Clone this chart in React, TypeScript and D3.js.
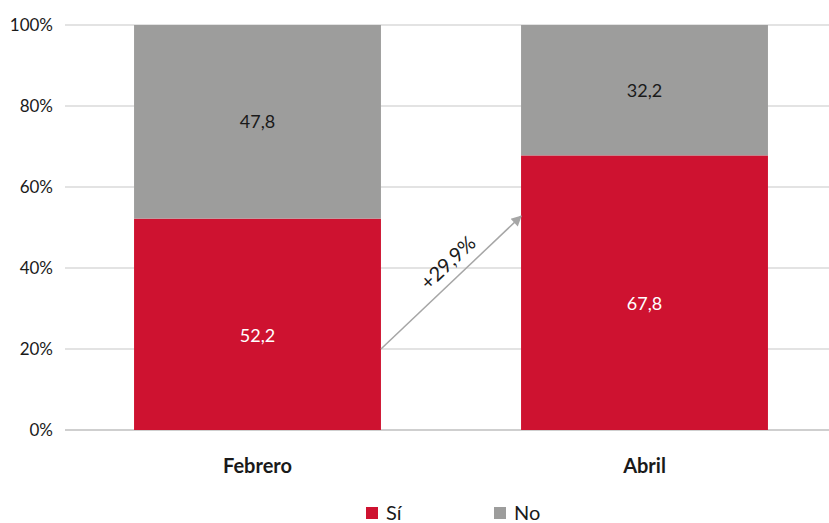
import React from "react";
import * as d3 from "d3";

const categories = ["Febrero", "Abril"];
const siValues = [52.2, 67.8];
const noValues = [47.8, 32.2];
const yTicks = [0, 20, 40, 60, 80, 100];
const seriesNames = ["Sí", "No"];
const changeLabel = "+29,9%";
// arrow goes from this % level at the first bar to this % level at the second bar
const arrowFrom = 20;
const arrowTo = 52.8;

const RED = "#ce1230";
const GRAY = "#9d9d9c";
const FONT = "Lato, 'Open Sans', sans-serif";

export default function App() {
  const width = 829;
  const height = 523;

  const x = d3.scaleBand<string>()
    .domain(categories)
    .range([64, 838])
    .paddingInner(0.362)
    .paddingOuter(0.181);

  const y = d3.scaleLinear().domain([0, 100]).range([430, 25]);

  const bw = x.bandwidth();
  const ax1 = (x(categories[0]) || 0) + bw;
  const ay1 = y(arrowFrom);
  const ax2 = x(categories[1]) || 0;
  const ay2 = y(arrowTo);
  const angle = (Math.atan2(ay2 - ay1, ax2 - ax1) * 180) / Math.PI;
  const mx = (ax1 + ax2) / 2 - 3;
  const my = (ay1 + ay2) / 2 - 20;

  return (
    <svg
      width={width}
      height={height}
      style={{ position: "absolute", left: 0, top: 0, background: "#fff" }}
      fontFamily={FONT}
    >
      <defs>
        <marker id="arrowhead" viewBox="0 0 10 10" refX="9" refY="5"
          markerWidth="8" markerHeight="7" orient="auto">
          <path d="M0,0 L10,5 L0,10 Z" fill="#a6a6a6" />
        </marker>
      </defs>

      {/* gridlines */}
      {yTicks.map((t) => (
        <line key={t} x1={65} x2={width} y1={y(t)} y2={y(t)}
          stroke={t === 0 ? "#a0a0a0" : "#c8c8c8"} strokeWidth={1.2} />
      ))}

      {/* y tick labels */}
      {yTicks.map((t) => (
        <text key={"l" + t} x={53} y={y(t)} dy="0.35em" textAnchor="end"
          fontSize={17} fill="#1a1a1a">{t + "%"}</text>
      ))}

      {/* bars */}
      {categories.map((c, i) => {
        const bx = x(c) || 0;
        return (
          <g key={c}>
            <rect x={bx} width={bw} y={y(siValues[i])} height={y(0) - y(siValues[i])} fill={RED} />
            <rect x={bx} width={bw} y={y(100)} height={y(siValues[i]) - y(100)} fill={GRAY} />
            <text x={bx + bw / 2} y={y(siValues[i] / 2) + 11} dy="0.35em" textAnchor="middle"
              fontSize={18} fill="#fff">{siValues[i].toFixed(1).replace(".", ",")}</text>
            <text x={bx + bw / 2} y={y(siValues[i] + noValues[i] / 2)} dy="0.35em" textAnchor="middle"
              fontSize={18} fill="#1a1a1a">{noValues[i].toFixed(1).replace(".", ",")}</text>
            <text x={bx + bw / 2} y={466} dy="0.35em" textAnchor="middle"
              fontSize={20} fontWeight="bold" fill="#1a1a1a">{c}</text>
          </g>
        );
      })}

      {/* change arrow */}
      <line x1={ax1} y1={ay1} x2={ax2} y2={ay2} stroke="#a6a6a6" strokeWidth={1.5}
        markerEnd="url(#arrowhead)" />
      <text transform={`translate(${mx},${my}) rotate(${angle})`} textAnchor="middle"
        dy="0.35em" fontSize={20} fill="#1a1a1a">{changeLabel}</text>

      {/* legend */}
      {seriesNames.map((s, i) => {
        const lx = 366 + i * 128;
        return (
          <g key={s}>
            <rect x={lx} y={507} width={12} height={12} fill={i === 0 ? RED : GRAY} />
            <text x={lx + 20} y={513} dy="0.35em" fontSize={20} fill="#1a1a1a">{s}</text>
          </g>
        );
      })}
    </svg>
  );
}
